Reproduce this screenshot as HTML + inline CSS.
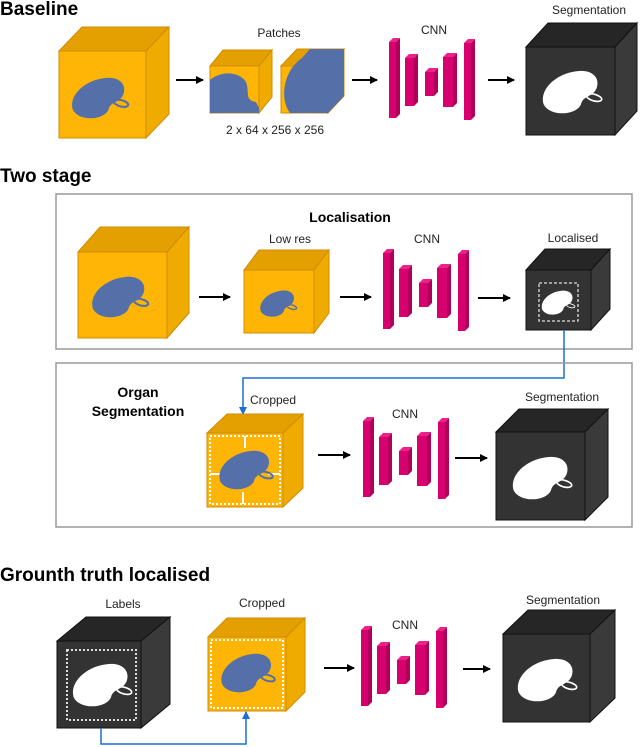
<!DOCTYPE html>
<html><head><meta charset="utf-8"><style>
html,body{margin:0;padding:0;background:#fff}
svg{display:block}
text{font-family:"Liberation Sans",sans-serif;fill:#222}
.t{font-size:19px;font-weight:bold;fill:#000}
.b{font-size:14px;font-weight:bold;fill:#000}
.l{font-size:12px}
.of{fill:#ffb505;stroke:#d08c00;stroke-width:1}
.ot{fill:#e4a000;stroke:#d08c00;stroke-width:1}
.os{fill:#f0ab00;stroke:#d08c00;stroke-width:1}
.df{fill:#333;stroke:#111;stroke-width:1}
.dt{fill:#262626;stroke:#111;stroke-width:1}
.ds{fill:#3a3a3a;stroke:#111;stroke-width:1}
.bar{fill:#d6006e}
.bt{fill:#f0208a}
.bs{fill:#b0005a}
</style></head><body>
<svg width="640" height="747" viewBox="0 0 640 747" xmlns="http://www.w3.org/2000/svg">
<defs>
<marker id="ah" markerWidth="8" markerHeight="8" refX="7" refY="4" orient="auto" markerUnits="userSpaceOnUse"><path d="M0,0 L8,4 L0,8 Z" fill="#000"/></marker>
<marker id="bh" markerWidth="8" markerHeight="8" refX="7" refY="4" orient="auto" markerUnits="userSpaceOnUse"><path d="M0,0 L8,4 L0,8 Z" fill="#1a6fd6"/></marker>
<g id="kb"><path d="M-24,12 C-28,-2 -12,-16 6,-18 C20,-20 28,-12 24,-2 C20,6 12,4 10,12 C6,22 -18,24 -24,12Z" fill="#5570a8"/><ellipse cx="22" cy="6" rx="7" ry="3" fill="none" stroke="#5570a8" stroke-width="2" transform="rotate(15 22 6)"/></g>
<g id="kw"><path d="M-24,12 C-28,-2 -12,-16 6,-18 C20,-20 28,-12 24,-2 C20,6 12,4 10,12 C6,22 -18,24 -24,12Z" fill="#fff"/><ellipse cx="22" cy="6" rx="7" ry="3" fill="none" stroke="#fff" stroke-width="1.5" transform="rotate(15 22 6)"/></g>
<g id="cnn">
<rect x="0" y="4" width="7" height="76" class="bar"/><polygon points="0,4 4,0 11,0 7,4" class="bt"/><polygon points="7,4 11,0 11,76 7,80" class="bs"/>
<rect x="16" y="20" width="9" height="48" class="bar"/><polygon points="16,20 20,16 29,16 25,20" class="bt"/><polygon points="25,20 29,16 29,64 25,68" class="bs"/>
<rect x="36" y="34" width="9" height="24" class="bar"/><polygon points="36,34 40,30 49,30 45,34" class="bt"/><polygon points="45,34 49,30 49,54 45,58" class="bs"/>
<rect x="54" y="19" width="10" height="50" class="bar"/><polygon points="54,19 58,15 68,15 64,19" class="bt"/><polygon points="64,19 68,15 68,65 64,69" class="bs"/>
<rect x="75" y="5" width="7" height="77" class="bar"/><polygon points="75,5 79,1 86,1 82,5" class="bt"/><polygon points="82,5 86,1 86,78 82,82" class="bs"/>
</g>
</defs>

<!-- Baseline -->
<text x="0" y="15" class="t">Baseline</text>
<polygon points="59,51 82,27 169,27 146,51" class="ot"/><polygon points="146,51 169,27 169,114 146,138" class="os"/><rect x="59" y="51" width="87" height="87" class="of"/>
<use href="#kb" transform="translate(98,97) scale(1.05)"/>
<line x1="176" y1="80" x2="203" y2="80" stroke="#000" stroke-width="2" marker-end="url(#ah)"/>
<text x="279" y="37" class="l" text-anchor="middle">Patches</text>
<polygon points="210,66 223,50 272,50 259,66" class="ot"/><polygon points="259,66 272,50 272,97 259,113" class="os"/><rect x="210" y="66" width="49" height="47" class="of"/>
<path d="M210,80 C222,70 240,72 246,82 C250,92 244,100 256,102 L259,108 L259,113 L210,113Z" fill="#5570a8"/>
<polygon points="281,66 297,49 344,49 328,66" class="ot"/><polygon points="328,66 344,49 344,96 328,113" class="os"/><rect x="281" y="66" width="47" height="47" class="of"/>
<path d="M290,113 C280,100 282,72 302,58 L310,49 L344,49 L344,96 L328,113Z" fill="#5570a8"/>
<text x="275" y="134" class="l" text-anchor="middle">2 x 64 x 256 x 256</text>
<line x1="352" y1="80" x2="377" y2="80" stroke="#000" stroke-width="2" marker-end="url(#ah)"/>
<text x="434" y="34" class="l" text-anchor="middle">CNN</text>
<use href="#cnn" transform="translate(389,38)"/>
<line x1="488" y1="80" x2="514" y2="80" stroke="#000" stroke-width="2" marker-end="url(#ah)"/>
<text x="589" y="14" class="l" text-anchor="middle">Segmentation</text>
<polygon points="526,47 548,23 637,23 615,47" class="dt"/><polygon points="615,47 637,23 637,111 615,135" class="ds"/><rect x="526" y="47" width="89" height="88" class="df"/>
<use href="#kw" transform="translate(570,91) scale(1.1)"/>

<!-- Two stage -->
<text x="0" y="182" class="t">Two stage</text>
<rect x="56" y="194" width="576" height="155" fill="none" stroke="#999" stroke-width="1.5"/>
<text x="350" y="222" class="b" text-anchor="middle">Localisation</text>
<polygon points="78,252 100,227 189,227 167,252" class="ot"/><polygon points="167,252 189,227 189,313 167,338" class="os"/><rect x="78" y="252" width="89" height="86" class="of"/>
<use href="#kb" transform="translate(118,296) scale(1.05)"/>
<line x1="199" y1="297" x2="230" y2="297" stroke="#000" stroke-width="2" marker-end="url(#ah)"/>
<text x="290" y="243" class="l" text-anchor="middle">Low res</text>
<polygon points="244,270 259,250 329,250 314,270" class="ot"/><polygon points="314,270 329,250 329,313 314,333" class="os"/><rect x="244" y="270" width="70" height="63" class="of"/>
<use href="#kb" transform="translate(277,303) scale(0.68)"/>
<line x1="340" y1="297" x2="371" y2="297" stroke="#000" stroke-width="2" marker-end="url(#ah)"/>
<text x="427" y="243" class="l" text-anchor="middle">CNN</text>
<use href="#cnn" transform="translate(383,249)"/>
<line x1="478" y1="298" x2="510" y2="298" stroke="#000" stroke-width="2" marker-end="url(#ah)"/>
<text x="573" y="242" class="l" text-anchor="middle">Localised</text>
<polygon points="526,270 545,249 610,249 591,270" class="dt"/><polygon points="591,270 610,249 610,309 591,330" class="ds"/><rect x="526" y="270" width="65" height="60" class="df"/>
<rect x="539" y="283" width="39" height="38" fill="none" stroke="#ddd" stroke-width="1.3" stroke-dasharray="3,2"/>
<use href="#kw" transform="translate(557,302) scale(0.62)"/>
<polyline points="564,330 564,378 243,378 243,414" fill="none" stroke="#1a6fd6" stroke-width="1.5" marker-end="url(#bh)"/>

<rect x="56" y="363" width="576" height="164" fill="none" stroke="#999" stroke-width="1.5"/>
<text x="138" y="397" class="b" text-anchor="middle">Organ</text>
<text x="138" y="416" class="b" text-anchor="middle">Segmentation</text>
<text x="273" y="404" class="l" text-anchor="middle">Cropped</text>
<polygon points="207,433 227,414 303,414 283,433" class="ot"/><polygon points="283,433 303,414 303,488 283,507" class="os"/><rect x="207" y="433" width="76" height="74" class="of"/>
<rect x="210" y="436" width="70" height="68" fill="none" stroke="#fff" stroke-width="2" stroke-dasharray="2,2"/>
<g stroke="#fff" stroke-width="2"><line x1="245" y1="436" x2="245" y2="448"/><line x1="243" y1="492" x2="243" y2="504"/><line x1="210" y1="474" x2="222" y2="474"/><line x1="268" y1="474" x2="280" y2="474"/></g>
<use href="#kb" transform="translate(244,469) scale(1.0)"/>
<line x1="318" y1="455" x2="350" y2="455" stroke="#000" stroke-width="2" marker-end="url(#ah)"/>
<text x="405" y="418" class="l" text-anchor="middle">CNN</text>
<use href="#cnn" transform="translate(363,417)"/>
<line x1="455" y1="458" x2="487" y2="458" stroke="#000" stroke-width="2" marker-end="url(#ah)"/>
<text x="562" y="401" class="l" text-anchor="middle">Segmentation</text>
<polygon points="496,432 519,409 608,409 585,432" class="dt"/><polygon points="585,432 608,409 608,497 585,520" class="ds"/><rect x="496" y="432" width="89" height="88" class="df"/>
<use href="#kw" transform="translate(540,477) scale(1.1)"/>

<!-- Ground truth -->
<text x="0" y="581" class="t">Grounth truth localised</text>
<text x="123" y="608" class="l" text-anchor="middle">Labels</text>
<polygon points="57,641 86,617 170,617 141,641" class="dt"/><polygon points="141,641 170,617 170,704 141,728" class="ds"/><rect x="57" y="641" width="84" height="87" class="df"/>
<rect x="67" y="650" width="69" height="70" fill="none" stroke="#ddd" stroke-width="2" stroke-dasharray="2,2"/>
<use href="#kw" transform="translate(100,684) scale(1.1)"/>
<text x="262" y="607" class="l" text-anchor="middle">Cropped</text>
<polygon points="208,637 227,618 305,618 286,637" class="ot"/><polygon points="286,637 305,618 305,692 286,711" class="os"/><rect x="208" y="637" width="78" height="74" class="of"/>
<rect x="211" y="640" width="72" height="68" fill="none" stroke="#fff" stroke-width="2" stroke-dasharray="2,2"/>
<use href="#kb" transform="translate(246,672) scale(1.0)"/>
<polyline points="101,728 101,744 246,744 246,712" fill="none" stroke="#1a6fd6" stroke-width="1.5" marker-end="url(#bh)"/>
<line x1="324" y1="668" x2="354" y2="668" stroke="#000" stroke-width="2" marker-end="url(#ah)"/>
<text x="405" y="629" class="l" text-anchor="middle">CNN</text>
<use href="#cnn" transform="translate(361,626)"/>
<line x1="463" y1="669" x2="490" y2="669" stroke="#000" stroke-width="2" marker-end="url(#ah)"/>
<text x="563" y="604" class="l" text-anchor="middle">Segmentation</text>
<polygon points="503,634 528,610 615,610 590,634" class="dt"/><polygon points="590,634 615,610 615,698 590,722" class="ds"/><rect x="503" y="634" width="87" height="88" class="df"/>
<use href="#kw" transform="translate(545,679) scale(1.1)"/>
</svg>
</body></html>
